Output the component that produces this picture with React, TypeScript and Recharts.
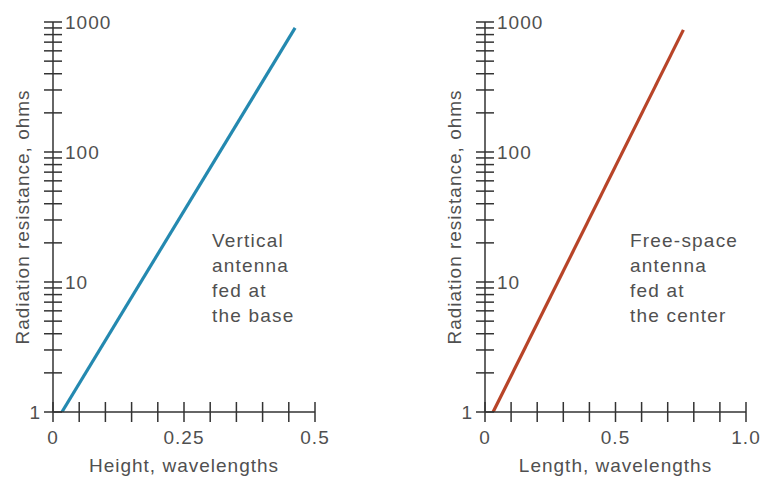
// @ts-nocheck
import React from "react";
import { LineChart, Line, XAxis, YAxis } from "recharts";

// resistance axis (log), same for both panels
const R_TICKS = [
  1, 2, 3, 4, 5, 6, 7, 8, 9,
  10, 20, 30, 40, 50, 60, 70, 80, 90,
  100, 200, 300, 400, 500, 600, 700, 800, 900,
  1000,
];
const R_LABELS = [1, 10, 100, 1000];

// left panel: vertical antenna fed at the base
const HEIGHT_TICKS = [0, 0.05, 0.1, 0.15, 0.2, 0.25, 0.3, 0.35, 0.4, 0.45, 0.5];
const HEIGHT_LABELS = [0, 0.25, 0.5];
const HEIGHT_X = [0.017, 0.462];
const VERTICAL_R = [1, 900];

// right panel: free-space antenna fed at the center
const LENGTH_TICKS = [0, 0.1, 0.2, 0.3, 0.4, 0.5, 0.6, 0.7, 0.8, 0.9, 1.0];
const LENGTH_LABELS = [0, 0.5, 1.0];
const LENGTH_X = [0.031, 0.76];
const DIPOLE_R = [1, 870];

const AXIS = "#333";
const TEXT = "#505050";
const FONT = "'Liberation Sans', Arial, sans-serif";
const FS = 19;
const LS = 1;

const toRows = (xs, ys) => xs.map((x, i) => ({ x, r: ys[i] }));

function RTick({ x, y, payload }) {
  const v = payload.value;
  const labeled = R_LABELS.includes(v);
  return (
    <g>
      <line x1={x - 9} x2={x + 9} y1={y} y2={y} stroke={AXIS} strokeWidth={1.5} />
      {labeled && (
        <text
          x={v === 1 ? x - 12 : x + 12}
          y={y}
          textAnchor={v === 1 ? "end" : "start"}
          dominantBaseline="central"
          fontFamily={FONT}
          fontSize={FS}
          letterSpacing={LS}
          fill={TEXT}
        >
          {v}
        </text>
      )}
    </g>
  );
}

function makeXTick(labels, fmt) {
  return function XTick({ x, y, payload }) {
    const v = payload.value;
    const labeled = labels.some((l) => Math.abs(l - v) < 1e-9);
    return (
      <g>
        <line x1={x} x2={x} y1={y - 10} y2={y + 10} stroke={AXIS} strokeWidth={1.5} />
        {labeled && (
          <text
            x={x}
            y={y + 32}
            textAnchor="middle"
            fontFamily={FONT}
            fontSize={FS}
            letterSpacing={LS}
            fill={TEXT}
          >
            {fmt(v)}
          </text>
        )}
      </g>
    );
  };
}

function yTitle({ viewBox }) {
  const vb = viewBox || { x: 52, y: 22, width: 1, height: 390 };
  const cx = vb.x + (vb.width || 0) - 31;
  const cy = vb.y + vb.height / 2;
  return (
    <text
      x={cx}
      y={cy}
      transform={`rotate(-90, ${cx}, ${cy})`}
      textAnchor="middle"
      dominantBaseline="central"
      fontFamily={FONT}
      fontSize={FS}
      letterSpacing={LS}
      fill={TEXT}
    >
      Radiation resistance, ohms
    </text>
  );
}

function xTitle(text) {
  return function XTitle({ viewBox }) {
    const vb = viewBox || { x: 53, y: 412, width: 262 };
    return (
      <text
        x={vb.x + vb.width / 2}
        y={vb.y + 60}
        textAnchor="middle"
        fontFamily={FONT}
        fontSize={FS}
        letterSpacing={LS}
        fill={TEXT}
      >
        {text}
      </text>
    );
  };
}

function Note({ x, lines }) {
  return (
    <text fontFamily={FONT} fontSize={FS} letterSpacing={1.2} fill={TEXT}>
      {lines.map((l, i) => (
        <tspan key={i} x={x} y={247 + i * 25}>
          {l}
        </tspan>
      ))}
    </text>
  );
}

function Panel({ data, color, xTicks, xLabels, fmt, domainMax, title, margin, note, noteX }) {
  return (
    <LineChart width={381} height={481} data={data} margin={margin}>
      <XAxis
        type="number"
        dataKey="x"
        domain={[0, domainMax]}
        ticks={xTicks}
        interval={0}
        allowDataOverflow
        height={69}
        tickSize={0}
        tickMargin={0}
        tickLine={false}
        axisLine={{ stroke: AXIS, strokeWidth: 1.5 }}
        tick={makeXTick(xLabels, fmt)}
        label={{ content: xTitle(title) }}
      />
      <YAxis
        type="number"
        dataKey="r"
        scale="log"
        domain={[1, 1000]}
        ticks={R_TICKS}
        interval={0}
        allowDataOverflow
        width={1}
        tickSize={0}
        tickMargin={0}
        tickLine={false}
        axisLine={{ stroke: AXIS, strokeWidth: 1.5 }}
        tick={RTick}
        label={{ content: yTitle }}
      />
      <Line
        type="linear"
        dataKey="r"
        stroke={color}
        strokeWidth={3.2}
        dot={false}
        isAnimationActive={false}
      />
      <Note x={noteX} lines={note} />
    </LineChart>
  );
}

export default function App() {
  return (
    <div style={{ position: "absolute", left: 0, top: 0, width: 762, height: 481, background: "#fff" }}>
      <div style={{ position: "absolute", left: 0, top: 0 }}>
        <Panel
          data={toRows(HEIGHT_X, VERTICAL_R)}
          color="#2489b0"
          xTicks={HEIGHT_TICKS}
          xLabels={HEIGHT_LABELS}
          fmt={(v) => String(v)}
          domainMax={0.5}
          title="Height, wavelengths"
          margin={{ top: 22, right: 66, left: 52, bottom: 0 }}
          note={["Vertical", "antenna", "fed at", "the base"]}
          noteX={212}
        />
      </div>
      <div style={{ position: "absolute", left: 381, top: 0 }}>
        <Panel
          data={toRows(LENGTH_X, DIPOLE_R)}
          color="#b84428"
          xTicks={LENGTH_TICKS}
          xLabels={LENGTH_LABELS}
          fmt={(v) => (v === 0 ? "0" : v.toFixed(1))}
          domainMax={1.0}
          title="Length, wavelengths"
          margin={{ top: 22, right: 16, left: 103, bottom: 0 }}
          note={["Free-space", "antenna", "fed at", "the center"]}
          noteX={249}
        />
      </div>
    </div>
  );
}
